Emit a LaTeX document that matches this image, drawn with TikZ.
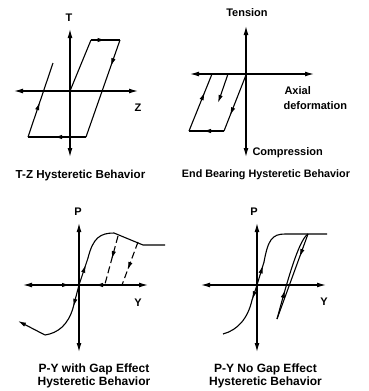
\documentclass[tikz,border=0pt]{standalone}
\usepackage{fontspec}
\setmainfont{Liberation Sans}
\usetikzlibrary{arrows.meta,decorations.markings}
\begin{document}
\begin{tikzpicture}[x=1pt,y=-1pt,
  line width=1.1pt, line join=miter,
  axis/.style={{Latex[length=9pt,width=4.8pt]}-{Latex[length=9pt,width=4.8pt]}},
  endarr/.style={-{Latex[length=8pt,width=4.4pt]}},
  arrat/.style={postaction={decorate},decoration={markings,mark=at position #1 with {\arrow{Latex[length=8pt,width=4.4pt]}}}},
  gap/.style={dash pattern=on 7pt off 3.5pt},
  lbl/.style={font=\bfseries\fontsize{11}{13}\selectfont, inner sep=0pt},
  ttl/.style={font=\bfseries\fontsize{11.6}{13}\selectfont, inner sep=0pt, align=center},
  ttlw/.style={font=\bfseries\fontsize{10.8}{13}\selectfont, inner sep=0pt, align=center},
  ttlb/.style={font=\bfseries\fontsize{12}{13}\selectfont, inner sep=0pt, align=center}]
\useasboundingbox (0,0) rectangle (368,391);

% ---------------- Panel 1: T-Z ----------------
\coordinate (t1) at (70,29);  \coordinate (b1) at (70,157);
\coordinate (l1) at (14,91);  \coordinate (r1) at (138,91);
\coordinate (o1) at (70,91);
\coordinate (a1) at (91,40);  \coordinate (a2) at (120,40);
\coordinate (a3) at (86,137); \coordinate (a4) at (28,137);
\coordinate (a5) at (53,63);
\draw[axis] (t1) -- (b1);
\draw[axis] (l1) -- (r1);
\draw (o1) -- (a1);
\draw[arrat=0.5] (a1) -- (a2);
\draw[arrat=0.27] (a2) -- (a3);
\draw[arrat=0.55] (a3) -- (a4);
\draw[arrat=0.47] (a4) -- (a5);
\node[lbl] (T1) at (69,18) {T};
\node[lbl] (Z1) at (138,108) {Z};
\node[ttl] (ttl1) at (80.5,175) {T-Z Hysteretic Behavior};

% ---------------- Panel 2: End bearing ----------------
\coordinate (t2) at (246,26);  \coordinate (b2) at (246,157);
\coordinate (l2) at (190,74);  \coordinate (r2) at (314,74);
\coordinate (o2) at (246,75);
\coordinate (p1) at (212,74);  \coordinate (p2) at (189,131);
\coordinate (p3) at (224,131);
\coordinate (q1) at (228,74);  \coordinate (q2) at (218,103);
\draw[axis] (t2) -- (b2);
\draw[axis] (l2) -- (r2);
\draw[arrat=0.72] (o2) -- (p3);
\draw[arrat=0.6] (p3) -- (p2);
\draw[arrat=0.68] (p2) -- (p1);
\draw[endarr] (q1) -- (q2);
\node[lbl] (ten) at (247,13) {Tension};
\node[lbl, anchor=west] (ax) at (284,91) {Axial};
\node[lbl, anchor=west] (def) at (283,106) {deformation};
\node[lbl, anchor=west] (comp) at (252,153) {Compression};
\node[ttlw] (ttl2) at (266,175) {End Bearing Hysteretic Behavior};

% ---------------- Panel 3: P-Y with gap ----------------
\coordinate (t3) at (79,223);  \coordinate (b3) at (79,352);
\coordinate (l3) at (23,285);  \coordinate (r3) at (148,285);
\coordinate (o3) at (79,285);
\coordinate (c1) at (88,258);  \coordinate (c2) at (114,233);
\coordinate (c3) at (143,245); \coordinate (c4) at (165,245);
\coordinate (d1) at (73,308);  \coordinate (d2) at (45,335);
\coordinate (d3) at (18,321);
\coordinate (g1) at (118,236); \coordinate (g2) at (105,284);
\coordinate (g3) at (138,242); \coordinate (g4) at (122,285);
\coordinate (h1) at (56,285);  \coordinate (h2) at (70,285);
\coordinate (h3) at (108,285); \coordinate (h4) at (95,285);
\draw[axis] (t3) -- (b3);
\draw[axis] (l3) -- (r3);
\draw[endarr] (h1) -- (h2);
\draw[endarr] (h3) -- (h4);
\draw[arrat=0.75] (o3) -- (c1);
\draw (c1) .. controls (93,238) and (100,233) .. (c2) -- (c3) -- (c4);
\draw[arrat=0.95] (o3) -- (d1);
\draw (d1) .. controls (68,325) and (58,333) .. (d2);
\draw[endarr] (d2) -- (d3);
\draw[gap, arrat=0.48] (g1) -- (g2);
\draw[gap, arrat=0.65] (g3) -- (g4);
\node[lbl] (P3) at (78,212) {P};
\node[lbl] (Y3) at (138,303) {Y};
\node[ttlb] (ttl3) at (94,375.5) {P-Y with Gap Effect\\Hysteretic Behavior};

% ---------------- Panel 4: P-Y no gap ----------------
\coordinate (t4) at (257,223);  \coordinate (b4) at (257,352);
\coordinate (l4) at (201,285);  \coordinate (r4) at (326,285);
\coordinate (o4) at (257,285);
\coordinate (e1) at (264,262);  \coordinate (e2) at (285,234);
\coordinate (e3) at (327,234);
\coordinate (f1) at (252,300);  \coordinate (f2) at (223,334);
\coordinate (k1) at (308,234);  \coordinate (k2) at (277,319);
\draw[axis] (t4) -- (b4);
\draw[axis] (l4) -- (r4);
\draw[arrat=0.85] (o4) -- (e1);
\draw (e1) .. controls (268,240) and (272,234) .. (e2) -- (e3);
\draw[arrat=0.95] (o4) -- (f1);
\draw (f1) .. controls (248,318) and (238,330) .. (f2);
\draw[arrat=0.27] (k1) -- (k2);
\draw[arrat=0.33] (k2) .. controls (285,290) and (298,240) .. (k1);
\node[lbl] (P4) at (254,212) {P};
\node[lbl] (Y4) at (324,302) {Y};
\node[ttlb] (ttl4) at (265.5,375.5) {P-Y No Gap Effect\\Hysteretic Behavior};
\end{tikzpicture}
\end{document}
